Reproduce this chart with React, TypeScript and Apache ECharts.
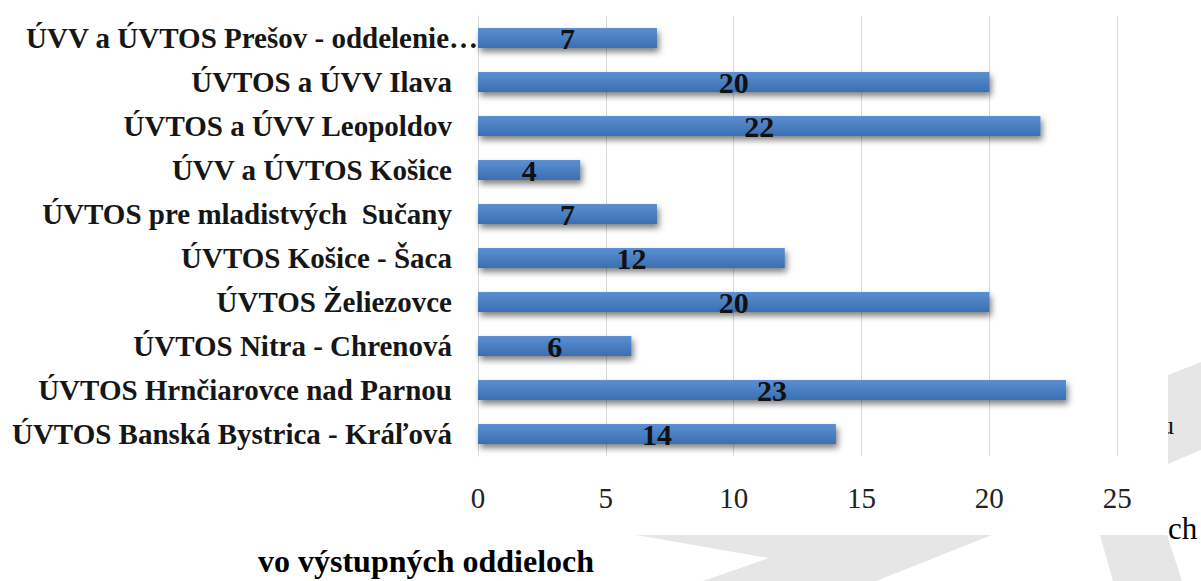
import React, { useEffect, useRef } from "react";
import * as echarts from "echarts";

const categories = [
  "ÚVTOS Banská Bystrica - Kráľová",
  "ÚVTOS Hrnčiarovce nad Parnou",
  "ÚVTOS Nitra - Chrenová",
  "ÚVTOS Želiezovce",
  "ÚVTOS Košice - Šaca",
  "ÚVTOS pre mladistvých  Sučany",
  "ÚVV a ÚVTOS Košice",
  "ÚVTOS a ÚVV Leopoldov",
  "ÚVTOS a ÚVV Ilava",
  "ÚVV a ÚVTOS Prešov - oddelenie…",
];
const values = [14, 23, 6, 20, 12, 7, 4, 22, 20, 7];
const axisMin = 0;
const axisMax = 30;
const axisStep = 5;
const shownTickMax = 25;
const captionText = "vo výstupných oddieloch";
const sideText1 = "u";
const sideText2 = "ch";

const SERIF = "Liberation Serif";
const GRAY = "#e6e6e6";

export default function App() {
  const ref = useRef<HTMLDivElement>(null);
  useEffect(() => {
    if (!ref.current) return;
    const chart = echarts.init(ref.current, null, { renderer: "svg" });
    const lastIdx = categories.length - 1;
    chart.setOption({
      animation: false,
      backgroundColor: "#ffffff",
      textStyle: { fontFamily: SERIF },
      grid: { left: 478, top: 16, height: 440, width: 767, containLabel: false },
      xAxis: {
        type: "value",
        min: axisMin,
        max: axisMax,
        interval: axisStep,
        axisLine: { show: false },
        axisTick: { show: false },
        splitLine: { show: true, lineStyle: { color: "#d9d9d9", width: 1 } },
        axisLabel: {
          fontSize: 29,
          color: "#222222",
          fontFamily: SERIF,
          margin: 27,
          formatter: (v: number) => (v > shownTickMax ? "" : String(v)),
        },
      },
      yAxis: {
        type: "category",
        data: categories,
        axisLine: { show: true, lineStyle: { color: "#d9d9d9", width: 1 } },
        axisTick: { show: false },
        splitLine: { show: false },
        axisLabel: {
          margin: 0,
          formatter: (v: string, i: number) => (i === lastIdx ? `{t|${v}}` : `{n|${v}}`),
          rich: {
            n: {
              padding: [0, 26, 0, 0],
              fontSize: 29,
              fontWeight: "bold",
              fontFamily: SERIF,
              color: "#161616",
            },
            t: {
              fontSize: 29,
              fontWeight: "bold",
              fontFamily: SERIF,
              color: "#161616",
            },
          },
        },
      },
      series: [
        {
          type: "bar",
          data: values,
          barWidth: 20,
          itemStyle: {
            color: new echarts.graphic.LinearGradient(0, 0, 0, 1, [
              { offset: 0, color: "#5b90d3" },
              { offset: 1, color: "#3b6eb2" },
            ]),
            shadowColor: "rgba(0,0,0,0.5)",
            shadowBlur: 6,
            shadowOffsetX: 2,
            shadowOffsetY: 4,
          },
          label: {
            show: true,
            position: "inside",
            fontSize: 30,
            fontWeight: "bold",
            color: "#111111",
            fontFamily: SERIF,
          },
        },
      ],
      graphic: [
        {
          type: "polygon",
          z: -5,
          shape: { points: [[1168, 375], [1201, 362], [1201, 450], [1168, 464]] },
          style: { fill: GRAY },
        },
        {
          type: "polygon",
          z: -5,
          shape: { points: [[1100, 535], [1167, 535], [1182, 581], [1113, 581]] },
          style: { fill: GRAY },
        },
        {
          type: "polygon",
          z: -5,
          shape: { points: [[636, 535], [992, 535], [876, 581], [703, 581], [769, 558]] },
          style: { fill: GRAY },
        },
        {
          type: "text",
          z: 1,
          style: {
            text: sideText1,
            x: 1161,
            y: 425,
            fontSize: 26,
            fontFamily: SERIF,
            fill: "#111",
            verticalAlign: "middle",
          },
        },
        {
          type: "rect",
          z: 2,
          shape: { x: 1140, y: 405, width: 28, height: 40 },
          style: { fill: "#ffffff" },
        },
        {
          type: "text",
          z: 1,
          style: {
            text: sideText2,
            x: 1168,
            y: 528,
            fontSize: 31,
            fontFamily: SERIF,
            fill: "#000",
            verticalAlign: "middle",
          },
        },
        {
          type: "text",
          z: 1,
          style: {
            text: captionText,
            x: 258,
            y: 561,
            fontSize: 32,
            fontWeight: "bold",
            fontFamily: SERIF,
            fill: "#000",
            verticalAlign: "middle",
          },
        },
      ],
    });
    return () => chart.dispose();
  }, []);
  return (
    <div style={{ position: "fixed", left: 0, top: 0, width: 1201, height: 581, overflow: "hidden", background: "#fff" }}>
      <div ref={ref} style={{ width: 1300, height: 581 }} />
    </div>
  );
}
